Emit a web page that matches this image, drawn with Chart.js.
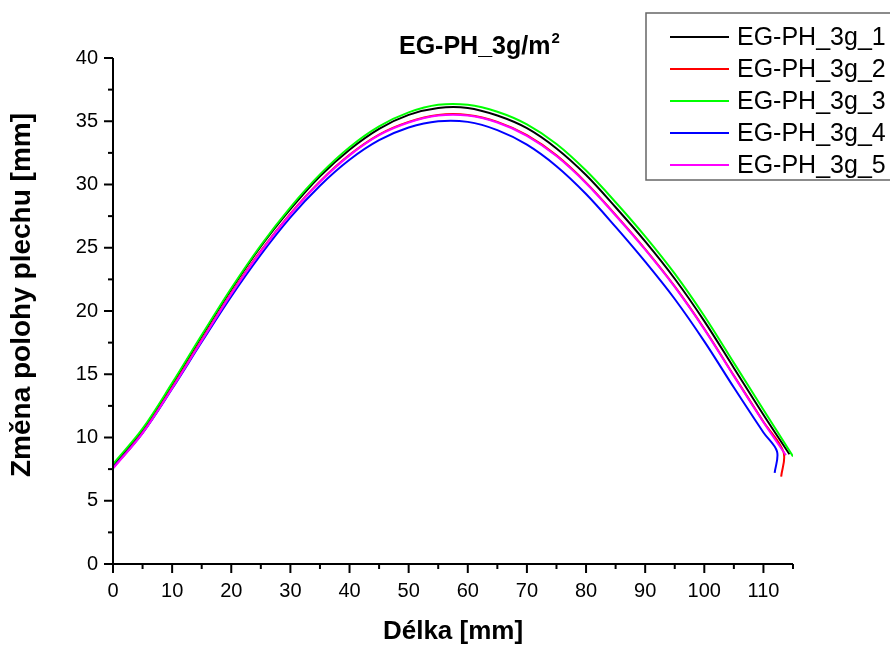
<!DOCTYPE html>
<html>
<head>
<meta charset="utf-8">
<script src="https://cdn.jsdelivr.net/npm/chart.js@4/dist/chart.umd.min.js"></script>
<style>
  html, body { margin: 0; padding: 0; background: #fff; }
  #wrap { width: 890px; height: 646px; }
</style>
</head>
<body>
<div id="wrap"><canvas id="myChart" width="890" height="646"></canvas></div>
<script>
// sample positions along the sheet [mm]
const lengthX = [0, 5, 10, 15, 20, 25, 30, 35, 40, 45, 50, 55, 60, 65, 70, 75, 80, 85, 90, 95, 100, 105, 110];

// change of sheet position [mm]
const sample1Y = [7.8, 10.6, 14.2, 18.0, 21.7, 25.1, 28.05, 30.65, 32.75, 34.4, 35.5, 36.05, 36.05, 35.45, 34.45, 32.85, 30.75, 28.2, 25.5, 22.55, 19.2, 15.5, 11.8];
const sample2Y = [7.6, 10.4, 13.95, 17.7, 21.4, 24.75, 27.7, 30.25, 32.35, 33.95, 34.95, 35.5, 35.5, 34.95, 33.9, 32.3, 30.15, 27.6, 24.9, 21.95, 18.6, 14.9, 11.25];
const sample3Y = [7.9, 10.7, 14.3, 18.1, 21.8, 25.2, 28.2, 30.8, 32.95, 34.6, 35.7, 36.3, 36.3, 35.75, 34.75, 33.2, 31.1, 28.6, 25.9, 22.95, 19.6, 15.9, 12.2];
const sample4Y = [7.6, 10.35, 13.85, 17.55, 21.15, 24.45, 27.4, 29.9, 31.95, 33.5, 34.5, 35.0, 34.95, 34.3, 33.15, 31.45, 29.25, 26.65, 23.9, 20.95, 17.6, 13.95, 10.4];
const sample5Y = [7.55, 10.35, 13.9, 17.65, 21.35, 24.7, 27.65, 30.2, 32.3, 33.9, 34.9, 35.45, 35.45, 34.9, 33.85, 32.25, 30.1, 27.55, 24.85, 21.9, 18.55, 14.85, 11.2];

// end of each measurement (after x = 110)
const sample1TailX = [114.4];        const sample1TailY = [8.67];
const sample2TailX = [113.4, 113.0]; const sample2TailY = [8.85, 6.9];
const sample3TailX = [115.0];        const sample3TailY = [8.5];
const sample4TailX = [112.3, 111.9]; const sample4TailY = [8.9, 7.2];
const sample5TailX = [113.8];        const sample5TailY = [8.6];

const seriesNames = ["EG-PH_3g_1", "EG-PH_3g_2", "EG-PH_3g_3", "EG-PH_3g_4", "EG-PH_3g_5"];
const seriesColors = ["#000000", "#ff0000", "#00ff00", "#0000ff", "#ff00ff"];

const xTicks = [0, 10, 20, 30, 40, 50, 60, 70, 80, 90, 100, 110];
const yTicks = [0, 5, 10, 15, 20, 25, 30, 35, 40];

const chartTitle = "EG-PH_3g/m";
const chartTitleSup = "2";
const xTitle = "Délka [mm]";
const yTitle = "Změna polohy plechu [mm]";

const FONT = "'Liberation Sans', Arial, sans-serif";

function buildPoints(ys, tailX, tailY) {
  var pts = [];
  for (var i = 0; i < lengthX.length; i++) {
    pts.push({x: lengthX[i], y: ys[i]});
  }
  for (var j = 0; j < tailX.length; j++) {
    pts.push({x: tailX[j], y: tailY[j]});
  }
  return pts;
}

const allY = [sample1Y, sample2Y, sample3Y, sample4Y, sample5Y];
const allTailX = [sample1TailX, sample2TailX, sample3TailX, sample4TailX, sample5TailX];
const allTailY = [sample1TailY, sample2TailY, sample3TailY, sample4TailY, sample5TailY];

const datasets = seriesNames.map(function(name, i) {
  return {
    label: name,
    data: buildPoints(allY[i], allTailX[i], allTailY[i]),
    borderColor: seriesColors[i],
    backgroundColor: seriesColors[i],
    borderWidth: 2,
    pointRadius: 0,
    showLine: true,
    tension: 0.35,
    // later series are drawn on top, as in the original
    order: seriesNames.length - i
  };
});

/* axes, tick marks (major + minor), titles and legend box */
const decorPlugin = {
  id: 'decor',
  afterDraw: function(chart) {
    const ctx = chart.ctx;
    const xs = chart.scales.x;
    const ys = chart.scales.y;
    const area = chart.chartArea;
    ctx.save();

    // axis lines
    ctx.strokeStyle = '#000';
    ctx.lineWidth = 2;
    ctx.beginPath();
    ctx.moveTo(area.left, area.top);
    ctx.lineTo(area.left, area.bottom);
    ctx.lineTo(area.right, area.bottom);
    ctx.stroke();

    // x ticks
    for (var v = 0; v <= 115; v += 5) {
      var px = xs.getPixelForValue(v);
      var len = (v % 10 === 0) ? 9 : 5;
      ctx.beginPath();
      ctx.moveTo(px, area.bottom);
      ctx.lineTo(px, area.bottom + len);
      ctx.stroke();
    }
    // y ticks
    for (var w = 0; w <= 40; w += 2.5) {
      var py = ys.getPixelForValue(w);
      var len2 = (w % 5 === 0) ? 9 : 5;
      ctx.beginPath();
      ctx.moveTo(area.left, py);
      ctx.lineTo(area.left - len2, py);
      ctx.stroke();
    }

    // y axis title (sits a bit above the plot centre in the original)
    ctx.save();
    ctx.fillStyle = '#000';
    ctx.font = 'bold 28px ' + FONT;
    ctx.textAlign = 'center';
    ctx.textBaseline = 'middle';
    ctx.translate(22, 295);
    ctx.rotate(-Math.PI / 2);
    ctx.fillText(yTitle, 0, 0);
    ctx.restore();

    // title with superscript
    ctx.fillStyle = '#000';
    ctx.textBaseline = 'alphabetic';
    ctx.textAlign = 'left';
    ctx.font = 'bold 25px ' + FONT;
    var tx = 399;
    ctx.fillText(chartTitle, tx, 54);
    var tw = ctx.measureText(chartTitle).width;
    ctx.font = 'bold 15px ' + FONT;
    ctx.fillText(chartTitleSup, tx + tw + 1, 43);

    // legend box
    ctx.strokeStyle = '#666';
    ctx.lineWidth = 1.5;
    ctx.strokeRect(646, 13, 250, 167);
    ctx.font = '25px ' + FONT;
    ctx.textBaseline = 'middle';
    chart.data.datasets.forEach(function(ds, i) {
      var ry = 37 + i * 32;
      ctx.strokeStyle = ds.borderColor;
      ctx.lineWidth = 2;
      ctx.beginPath();
      ctx.moveTo(670, ry);
      ctx.lineTo(729, ry);
      ctx.stroke();
      ctx.fillStyle = '#000';
      ctx.fillText(ds.label, 737, ry + 1);
    });

    ctx.restore();
  }
};

var ctx = document.getElementById('myChart').getContext('2d');
var chart = new Chart(ctx, {
  type: 'scatter',
  data: { datasets: datasets },
  options: {
    responsive: false,
    animation: false,
    layout: { padding: { left: 0, right: 97, top: 58, bottom: 0 } },
    plugins: {
      legend: { display: false },
      title: { display: false },
      tooltip: { enabled: false }
    },
    scales: {
      x: {
        type: 'linear',
        min: 0,
        max: 115,
        afterFit: function(scale) { scale.height = 82; },
        afterBuildTicks: function(scale) {
          scale.ticks = xTicks.map(function(v) { return {value: v}; });
        },
        grid: { display: false, drawTicks: false },
        border: { display: false },
        ticks: {
          color: '#000',
          padding: 15,
          maxRotation: 0,
          font: { family: FONT, size: 20 }
        },
        title: {
          display: true,
          text: xTitle,
          color: '#000',
          font: { family: FONT, size: 26, weight: 'bold', lineHeight: 1.1 },
          padding: { top: 0, bottom: 0 }
        }
      },
      y: {
        type: 'linear',
        min: 0,
        max: 40,
        afterFit: function(scale) { scale.width = 113; },
        afterBuildTicks: function(scale) {
          scale.ticks = yTicks.map(function(v) { return {value: v}; });
        },
        grid: { display: false, drawTicks: false },
        border: { display: false },
        ticks: {
          color: '#000',
          padding: 15,
          font: { family: FONT, size: 20 }
        },
        title: { display: false }
      }
    }
  },
  plugins: [decorPlugin]
});
</script>
</body>
</html>
